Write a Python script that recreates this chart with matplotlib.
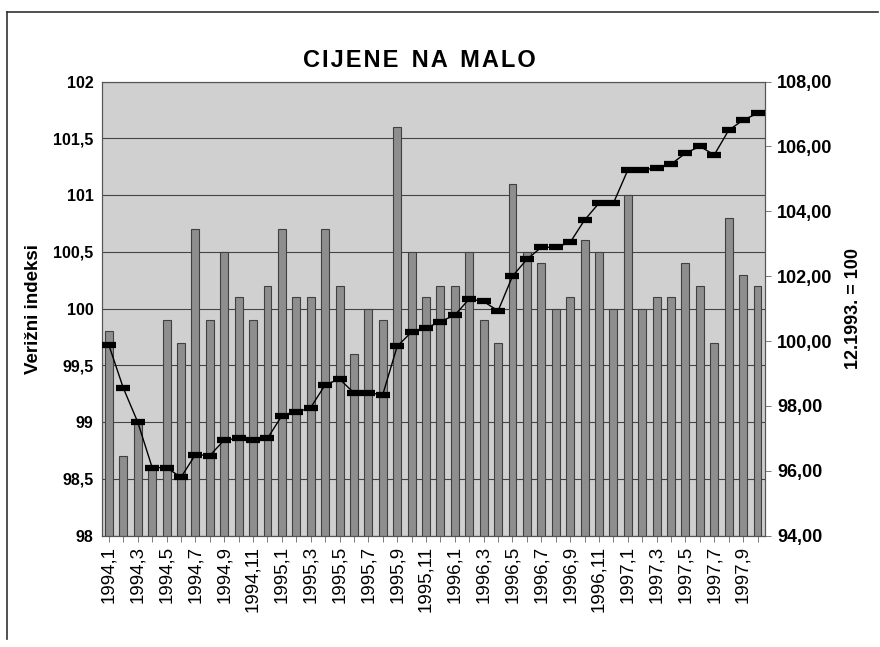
import numpy as np
import matplotlib
matplotlib.use("Agg")
import matplotlib.pyplot as plt
from matplotlib.lines import Line2D

plt.rcParams['font.family'] = ['Liberation Sans', 'DejaVu Sans']

# mjeseci 1994,1 .. 1997,10
months = [f"{y},{m}" for y in (1994, 1995, 1996, 1997) for m in range(1, 13)][:46]

# verizni indeksi (lijeva os)
chain_idx = [99.8, 98.7, 99.0, 98.6, 99.9, 99.7, 100.7, 99.9, 100.5, 100.1,
             99.9, 100.2, 100.7, 100.1, 100.1, 100.7, 100.2, 99.6, 100.0, 99.9,
             101.6, 100.5, 100.1, 100.2, 100.2, 100.5, 99.9, 99.7, 101.1, 100.5,
             100.4, 100.0, 100.1, 100.6, 100.5, 100.0, 101.0, 100.0, 100.1, 100.1,
             100.4, 100.2, 99.7, 100.8, 100.3, 100.2]

# bazni indeksi 12.1993. = 100 (desna os)
base_idx = [99.87, 98.55, 97.5, 96.1, 96.1, 95.8, 96.5, 96.47, 96.95, 97.0,
            96.95, 97.0, 97.7, 97.8, 97.95, 98.65, 98.83, 98.4, 98.4, 98.35,
            99.84, 100.28, 100.4, 100.6, 100.8, 101.3, 101.22, 100.93, 102.0, 102.52,
            102.89, 102.89, 103.04, 103.73, 104.25, 104.25, 105.27, 105.27, 105.34, 105.45,
            105.79, 106.0, 105.74, 106.5, 106.81, 107.02]

x = np.arange(len(months))

fig = plt.figure(figsize=(8.8, 6.47), dpi=100)
ax = fig.add_axes([0.1156, 0.172, 0.7534, 0.702])
ax.set_facecolor('#d0d0d0')

ax.bar(x, np.array(chain_idx) - 98, bottom=98, width=0.55,
       color='#8e8e8e', edgecolor='#404040', linewidth=0.8, zorder=3)
ax.set_ylim(98, 102)
ax.set_xlim(-0.5, len(months) - 0.5)
ax.set_yticks(np.arange(98, 102.01, 0.5))
ax.set_yticklabels([f"{v:g}".replace('.', ',') for v in np.arange(98, 102.01, 0.5)],
                   fontsize=11.5, fontweight='bold')
ax.yaxis.grid(True, color='#444444', linewidth=0.8, zorder=1)
ax.set_axisbelow(True)
ax.tick_params(axis='y', length=0, pad=6)
ax.set_xticks(x)
ax.set_xticklabels([m if i % 2 == 0 else '' for i, m in enumerate(months)],
                   rotation=90, fontsize=13.5)
ax.tick_params(axis='x', length=4, width=0.6, color='#666666')
ax.set_ylabel('Verižni indeksi', fontsize=13.5, fontweight='bold', labelpad=8)

ax2 = ax.twinx()
ax2.plot(x, base_idx, color='black', linewidth=1.0, marker='_',
         markersize=10, markeredgewidth=4.5, zorder=5)
ax2.set_ylim(94, 108)
ax2.set_yticks(np.arange(94, 108.1, 2))
ax2.set_yticklabels([f"{v:.2f}".replace('.', ',') for v in np.arange(94, 108.1, 2)],
                    fontsize=13, fontweight='bold')
ax2.tick_params(axis='y', length=4, width=0.6, color='#666666', pad=5)
ax2.set_ylabel('12.1993. = 100', fontsize=13, fontweight='bold', labelpad=9)

for a in (ax, ax2):
    for s in a.spines.values():
        s.set_color('#555555')
        s.set_linewidth(0.8)

title = '  '.join('\u200a'.join(w) for w in 'CIJENE NA MALO'.split())
fig.text(0.477, 0.907, title, ha='center', va='center',
         fontsize=17, fontweight='bold')

# okvir
fig.add_artist(Line2D([0.008, 0.998], [0.981, 0.981], color='#333333', linewidth=1.2))
fig.add_artist(Line2D([0.008, 0.008], [0.981, 0.013], color='#333333', linewidth=1.2))

fig.savefig('out.png', dpi=100)
